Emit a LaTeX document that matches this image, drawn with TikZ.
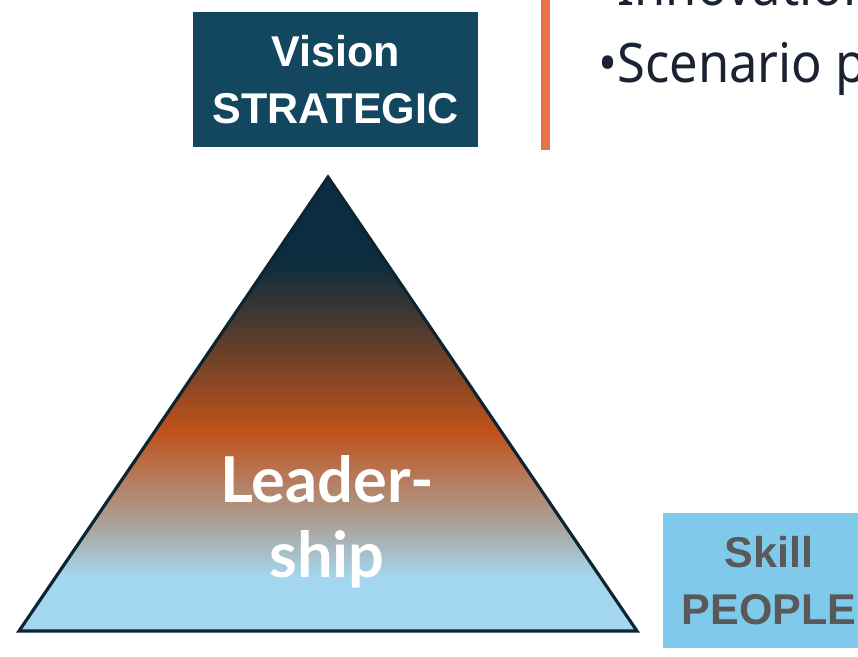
\documentclass[tikz,border=0pt]{standalone}
\usepackage{fontspec}
\setmainfont{Liberation Sans}
\newfontfamily\notofont[FakeStretch=0.93]{Noto Sans}
\newfontfamily\leadfont{Lato}
\usetikzlibrary{positioning}

\definecolor{visionblue}{HTML}{13475F}
\definecolor{skillblue}{HTML}{7FCAEA}
\definecolor{skillgrey}{HTML}{595959}
\definecolor{accentline}{HTML}{E9704B}
\definecolor{bullettxt}{HTML}{1B2333}
\definecolor{tristroke}{HTML}{0D2433}
\definecolor{gradblue}{HTML}{A3D7EF}
\definecolor{gradgrey}{HTML}{ABA49E}
\definecolor{gradorange}{HTML}{C0521A}
\definecolor{gradbrown}{HTML}{4E3A2E}
\definecolor{gradnavy}{HTML}{0C2D40}

\pgfdeclareverticalshading{leadgrad}{100bp}{color(0bp)=(gradblue); color(25bp)=(gradblue); color(31bp)=(gradblue); color(36.5bp)=(gradgrey); color(47bp)=(gradorange); color(58.5bp)=(gradbrown); color(65.5bp)=(gradnavy); color(100bp)=(gradnavy)}

\begin{document}
\begin{tikzpicture}[x=0.02cm,y=-0.02cm,
	labelbox/.style={minimum height=2.7cm,inner sep=0pt,align=center,font=\fontsize{24.5}{32.4}\selectfont\bfseries},
	bullettext/.style={anchor=base west,inner sep=0pt,text=bullettxt,font=\notofont\fontsize{31}{44}\selectfont}]
		\useasboundingbox (0,0) rectangle (858,656);
		\clip (0,0) rectangle (858,656);
		
		\node[labelbox,minimum width=5.7cm,fill=visionblue,text=white] (vision) at (335.5,79.5) {Vision\\STRATEGIC};
		
		\coordinate (linetop) at (545.5,-2);
		\coordinate (linebot) at (545.5,150);
		\draw[accentline,line width=4.6pt] (linetop)--(linebot);
		
		\node[bullettext] (innov) at (598,5) {•Innovation};
		\node[bullettext] (scen) at (598,82) {•Scenario p};
		
		\coordinate (apex) at (328,177);
		\coordinate (baseleft) at (19,631);
		\coordinate (baseright) at (637,631);
		\shade[shading=leadgrad,draw=tristroke,line width=1.8pt,line join=miter] (apex)--(baseright)--(baseleft)--cycle;
		
		\node[align=center,inner sep=0pt,text=white,font=\leadfont\bfseries\fontsize{36}{42.7}\selectfont] (lead) at (327,522) {Leader-\\ship};
		
		\node[labelbox,minimum width=4.24cm,fill=skillblue,text=skillgrey] (skill) at (769,580.5) {Skill\\PEOPLE};
	\end{tikzpicture}
\end{document}
